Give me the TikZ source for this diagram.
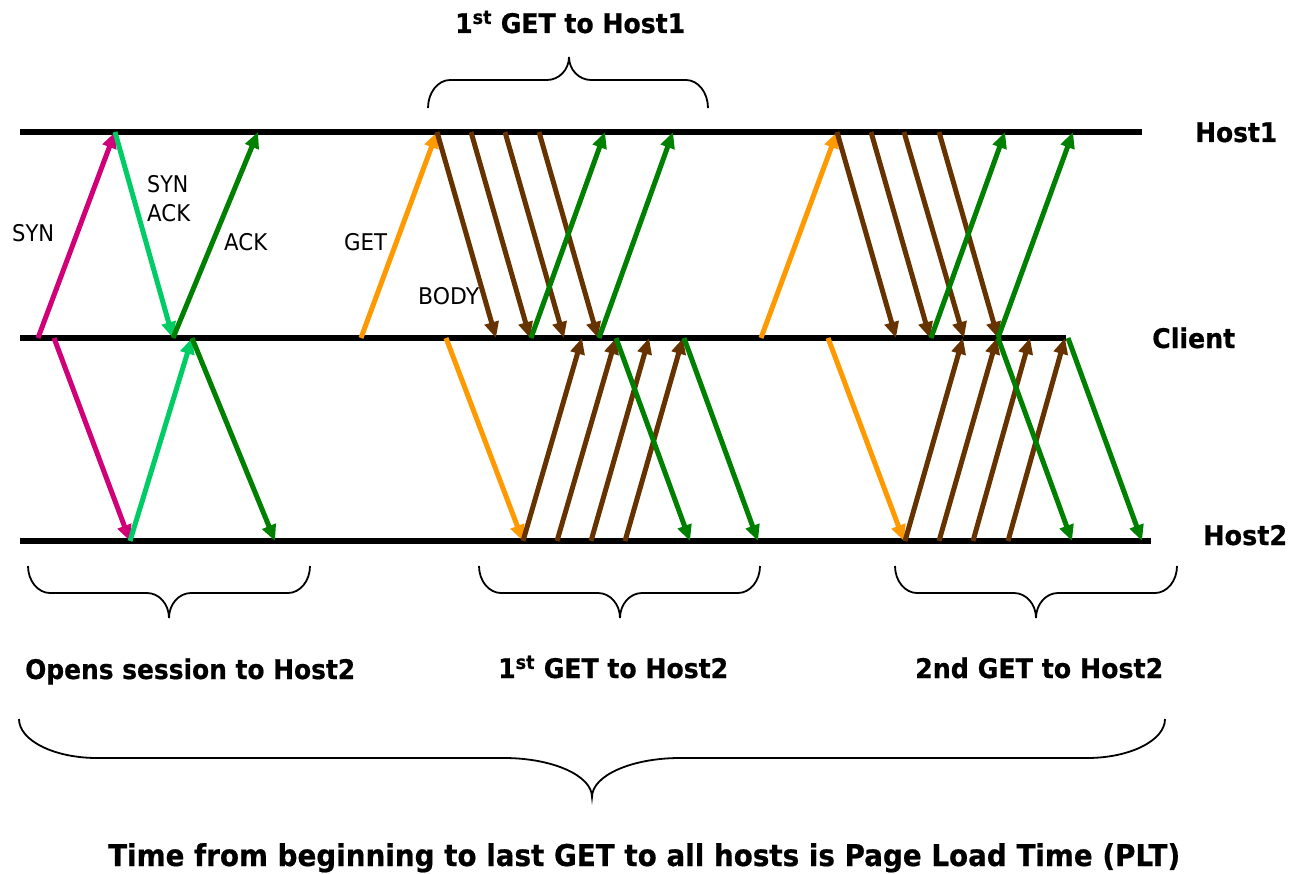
\documentclass[tikz,border=0pt]{standalone}
\usepackage{fontspec}
\setmainfont{DejaVu Sans}[BoldFeatures={FakeBold=0.6}]
\usepackage{graphicx}
\usetikzlibrary{arrows.meta}

\definecolor{synpink}{RGB}{210,0,120}
\definecolor{synackgreen}{RGB}{0,204,102}
\definecolor{ackgreen}{RGB}{0,128,0}
\definecolor{getorange}{RGB}{255,153,0}
\definecolor{bodybrown}{RGB}{102,51,0}

% squeeze a label horizontally to a given width (in pt), keeping its height
\newcommand\fitw[2]{\resizebox{#1pt}{\height}{#2}}

% curly brace: x-left, x-tip, x-right, y-ends, y-bar, y-tip, corner run, middle run
\newcommand\drawbrace[8]{%
  \draw[brace] (#1,#4)
    .. controls (#1,{#4+0.55*(#5-#4)}) and ({#1+0.45*#7},#5) .. ({#1+#7},#5)
    -- ({#2-#8},#5)
    .. controls ({#2-0.45*#8},#5) and (#2,{#5+0.45*(#6-#5)}) .. (#2,#6)
    .. controls (#2,{#5+0.45*(#6-#5)}) and ({#2+0.45*#8},#5) .. ({#2+#8},#5)
    -- ({#3-#7},#5)
    .. controls ({#3-0.45*#7},#5) and (#3,{#4+0.55*(#5-#4)}) .. (#3,#4);}

\tikzset{
  timeline/.style={line width=5.5pt, draw=black},
  msg/.style={line width=5pt, -{Triangle[length=16pt,width=14pt]}},
  syn/.style={msg, draw=synpink, fill=synpink},
  synack/.style={msg, draw=synackgreen, fill=synackgreen},
  ack/.style={msg, draw=ackgreen, fill=ackgreen},
  get/.style={msg, draw=getorange, fill=getorange},
  body/.style={msg, draw=bodybrown, fill=bodybrown},
  brace/.style={line width=1.8pt, draw=black},
  lbl/.style={anchor=base west, inner sep=0pt, font=\fontsize{23}{23}\selectfont},
  head/.style={anchor=base west, inner sep=0pt, font=\bfseries\fontsize{27}{27}\selectfont},
  foot/.style={anchor=base west, inner sep=0pt, font=\bfseries\fontsize{30}{30}\selectfont},
}

\begin{document}
\begin{tikzpicture}[x=1pt, y=-1pt]
\useasboundingbox (0,0) rectangle (1289,874);

% ---- timelines ----
\coordinate (h1L) at (20,132);  \coordinate (h1R) at (1142,132);
\coordinate (cL)  at (20,338);  \coordinate (cR)  at (1066,338);
\coordinate (h2L) at (20,541);  \coordinate (h2R) at (1151,541);
\draw[timeline] (h1L) -- (h1R);
\draw[timeline] (cL) -- (cR);
\draw[timeline] (h2L) -- (h2R);

\node[head] (host1)  at (1195,142) {\fitw{82}{Host1}};
\node[head] (client) at (1152,348) {\fitw{83}{Client}};
\node[head] (host2)  at (1203,545) {\fitw{84}{Host2}};

% ---- handshake with Host1 ----
\coordinate (a1) at (38,338);  \coordinate (a2) at (115,132);
\coordinate (a3) at (173,338); \coordinate (a4) at (258,132);
\draw[syn]    (a1) -- (a2);
\draw[synack] (a2) -- (a3);
\draw[ack]    (a3) -- (a4);

% ---- handshake with Host2 ----
\coordinate (b1) at (54,338);  \coordinate (b2) at (130,541);
\coordinate (b3) at (192,338); \coordinate (b4) at (275,541);
\draw[syn]    (b1) -- (b2);
\draw[synack] (b2) -- (b3);
\draw[ack]    (b3) -- (b4);

\node[lbl] (lsyn)    at (12,242)  {\fitw{42}{SYN}};
\node[lbl] (lsynack) at (147,193) {\fitw{41}{SYN}};
\node[lbl] (lsynack2) at (147,222) {\fitw{43}{ACK}};
\node[lbl] (lack)    at (224,251) {\fitw{43}{ACK}};
\node[lbl] (lget)    at (344,251) {\fitw{43}{GET}};
\node[lbl] (lbody)   at (418,305) {\fitw{61}{BODY}};

% ---- first GET to Host1 ----
\coordinate (g1s) at (361,338); \coordinate (g1e) at (437,132);
\draw[get] (g1s) -- (g1e);
\foreach \i/\xa/\xb in {1/437/496, 2/471/530, 3/505/564, 4/539/598} {
  \coordinate (d1t\i) at (\xa,132); \coordinate (d1c\i) at (\xb,338);
  \draw[body] (d1t\i) -- (d1c\i);
}
\foreach \i/\xa/\xb in {1/531/605, 2/599/673} {
  \coordinate (k1c\i) at (\xa,338); \coordinate (k1t\i) at (\xb,132);
  \draw[ack] (k1c\i) -- (k1t\i);
}

% ---- first GET to Host2 ----
\coordinate (g2s) at (446,338); \coordinate (g2e) at (523,541);
\draw[get] (g2s) -- (g2e);
\foreach \i/\xa/\xb in {1/523/582, 2/557/616, 3/591/649, 4/625/683} {
  \coordinate (d2b\i) at (\xa,541); \coordinate (d2c\i) at (\xb,338);
  \draw[body] (d2b\i) -- (d2c\i);
}
\foreach \i/\xa/\xb in {1/616/690, 2/684/758} {
  \coordinate (k2c\i) at (\xa,338); \coordinate (k2b\i) at (\xb,541);
  \draw[ack] (k2c\i) -- (k2b\i);
}

% ---- second GET to Host1 ----
\coordinate (g3s) at (761,338); \coordinate (g3e) at (837,132);
\draw[get] (g3s) -- (g3e);
\foreach \i/\xa/\xb in {1/837/896, 2/871/930, 3/904/964, 4/939/998} {
  \coordinate (d3t\i) at (\xa,132); \coordinate (d3c\i) at (\xb,338);
  \draw[body] (d3t\i) -- (d3c\i);
}
\foreach \i/\xa/\xb in {1/931/1005, 2/998/1073} {
  \coordinate (k3c\i) at (\xa,338); \coordinate (k3t\i) at (\xb,132);
  \draw[ack] (k3c\i) -- (k3t\i);
}

% ---- second GET to Host2 ----
\coordinate (g4s) at (828,338); \coordinate (g4e) at (904,541);
\draw[get] (g4s) -- (g4e);
\foreach \i/\xa/\xb in {1/905/963, 2/939/997, 3/973/1030, 4/1008/1065} {
  \coordinate (d4b\i) at (\xa,541); \coordinate (d4c\i) at (\xb,338);
  \draw[body] (d4b\i) -- (d4c\i);
}
\foreach \i/\xa/\xb in {1/998/1072, 2/1068/1142} {
  \coordinate (k4c\i) at (\xa,338); \coordinate (k4b\i) at (\xb,541);
  \draw[ack] (k4c\i) -- (k4b\i);
}

% ---- braces and captions ----
\drawbrace{428}{569}{708}{108}{80}{57}{22}{22}
\node[head] (cap1) at (455,33) {\fitw{230}{1\textsuperscript{st} GET to Host1}};

\drawbrace{28}{169}{310}{566}{593}{618}{22}{22}
\drawbrace{479}{620}{760}{566}{593}{618}{22}{22}
\drawbrace{895}{1036}{1177}{566}{593}{618}{22}{22}
\node[head] (cap2) at (25,679)  {\fitw{330}{Opens session to Host2}};
\node[head] (cap3) at (498,678) {\fitw{230}{1\textsuperscript{st} GET to Host2}};
\node[head] (cap4) at (915,678) {\fitw{248}{2nd GET to Host2}};

\drawbrace{19}{592}{1165}{719}{758}{797}{78}{88}
\node[foot] (cap5) at (108,866) {\fitw{1072}{Time from beginning to last GET to all hosts is Page Load Time (PLT)}};
\end{tikzpicture}
\end{document}
